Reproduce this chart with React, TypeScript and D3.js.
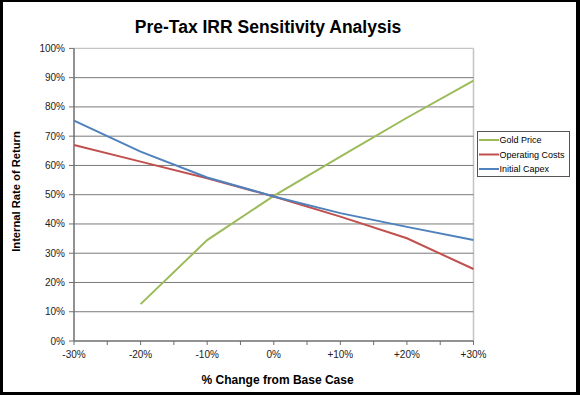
import React from "react";
import * as d3 from "d3";

const xValues = [-30, -20, -10, 0, 10, 20, 30];
const xTickLabels = ["-30%", "-20%", "-10%", "0%", "+10%", "+20%", "+30%"];
const goldPrice: (number | null)[] = [null, 12.6, 34.5, 49.6, 63, 76.3, 89];
const operatingCosts = [67, 61.3, 55.6, 49.4, 42.5, 35.1, 24.6];
const initialCapex = [75.3, 64.7, 55.9, 49.4, 43.7, 39, 34.5];
const yTicks = [0, 10, 20, 30, 40, 50, 60, 70, 80, 90, 100];

const series = [
  { name: "Gold Price", color: "#9BBB59", values: goldPrice },
  { name: "Operating Costs", color: "#C0504D", values: operatingCosts },
  { name: "Initial Capex", color: "#4F81BD", values: initialCapex },
];

export default function App() {
  const W = 580, H = 395;
  const left = 74, right = 473.5, top = 48.4, bottom = 341;
  const x = d3.scaleLinear().domain([-30, 30]).range([left, right]);
  const y = d3.scaleLinear().domain([0, 100]).range([bottom, top]);
  const minorTicks = d3.range(-30, 31, 5);
  const line = d3
    .line<number | null>()
    .defined((d) => d != null)
    .x((_, i) => x(xValues[i]))
    .y((d) => y(d as number));
  const font = "Liberation Sans, Arial, sans-serif";
  return (
    <svg width={W} height={H} style={{ position: "absolute", left: 0, top: 0, display: "block" }} fontFamily={font}>
      <rect x={0} y={0} width={W} height={H} fill="#000" />
      <rect x={3} y={2} width={573} height={390} fill="#fff" />
      {/* plot border top/right */}
      <line x1={left} x2={right} y1={y(100)} y2={y(100)} stroke="#c4c4c4" strokeWidth={1.2} />
      <line x1={right} x2={right} y1={top} y2={bottom} stroke="#c4c4c4" strokeWidth={1.5} />
      {yTicks.filter((t) => t > 0 && t < 100).map((t) => (
        <line key={t} x1={left} x2={right} y1={y(t)} y2={y(t)} stroke="#7a7a7a" strokeWidth={1} />
      ))}
      {/* axes */}
      <line x1={left} x2={left} y1={top} y2={bottom} stroke="#6e6e6e" strokeWidth={1.5} />
      <line x1={left} x2={right} y1={bottom} y2={bottom} stroke="#6e6e6e" strokeWidth={1.5} />
      {yTicks.map((t) => (
        <g key={t}>
          <line x1={left - 5} x2={left} y1={y(t)} y2={y(t)} stroke="#6e6e6e" strokeWidth={1} />
          <text x={65} y={y(t) + 3.5} textAnchor="end" fontSize={10} fill="#222">{t}%</text>
        </g>
      ))}
      {minorTicks.map((t) => (
        <line key={t} x1={x(t)} x2={x(t)} y1={bottom} y2={bottom + 4} stroke="#6e6e6e" strokeWidth={1} />
      ))}
      {xValues.map((v, i) => (
        <text key={v} x={x(v)} y={357.5} textAnchor="middle" fontSize={10} fill="#222">{xTickLabels[i]}</text>
      ))}
      {series.map((s) => (
        <path key={s.name} d={line(s.values) || ""} fill="none" stroke={s.color} strokeWidth={2} />
      ))}
      <text x={268} y={33} textAnchor="middle" fontSize={17.5} fontWeight="bold" fill="#000">Pre-Tax IRR Sensitivity Analysis</text>
      <text x={277.6} y={384} textAnchor="middle" fontSize={12} fontWeight="bold" fill="#000">% Change from Base Case</text>
      <text transform={`translate(20,191.5) rotate(-90)`} textAnchor="middle" fontSize={11.2} fontWeight="bold" fill="#000">Internal Rate of Return</text>
      {/* legend */}
      <rect x={477.5} y={131.5} width={92} height={45} fill="#fff" stroke="#555" strokeWidth={1} />
      {series.map((s, i) => (
        <g key={s.name}>
          <line x1={479} x2={499} y1={140 + i * 14.5} y2={140 + i * 14.5} stroke={s.color} strokeWidth={2} />
          <text x={499.5} y={143.3 + i * 14.5} fontSize={9} fill="#000">{s.name}</text>
        </g>
      ))}
    </svg>
  );
}
